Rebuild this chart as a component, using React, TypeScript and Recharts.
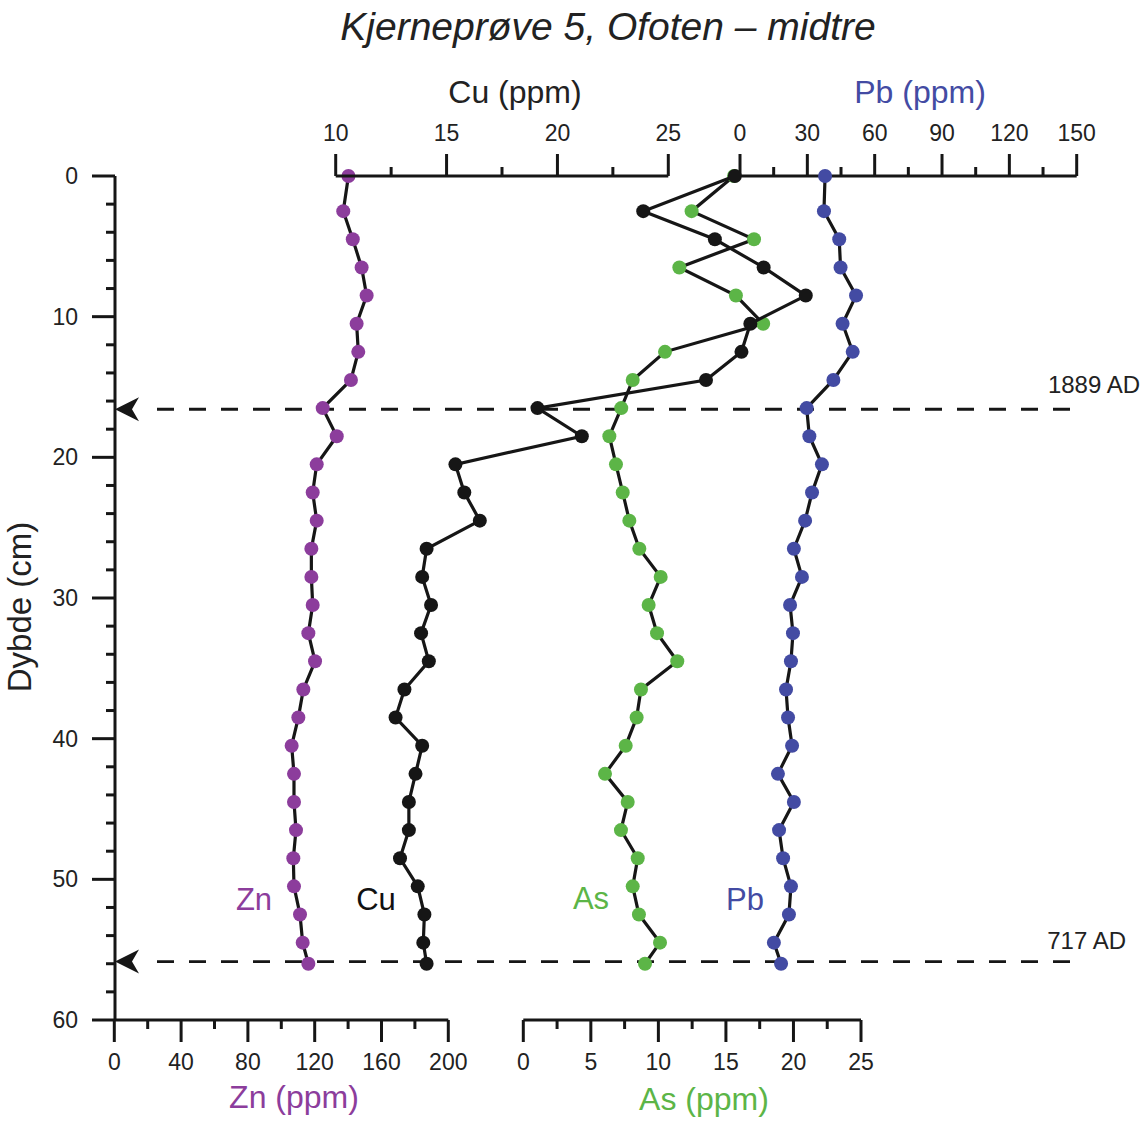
import { LineChart, Line, XAxis, YAxis, ReferenceLine } from 'recharts'

// depth of each sample (cm)
const depth = [0, 2.5, 4.5, 6.5, 8.5, 10.5, 12.5, 14.5, 16.5, 18.5, 20.5, 22.5, 24.5, 26.5, 28.5, 30.5, 32.5, 34.5, 36.5, 38.5, 40.5, 42.5, 44.5, 46.5, 48.5, 50.5, 52.5, 54.5, 56]

// concentrations (ppm)
const zn = [140.2, 137.1, 142.8, 148.1, 151.1, 145.1, 146.1, 141.7, 124.8, 133.2, 121.2, 118.8, 121.2, 118, 118, 118.8, 116.2, 120.2, 113.2, 110.2, 106.2, 107.6, 107.6, 108.8, 107.2, 107.6, 111.2, 112.8, 116.2]
const cu = [28.0, 23.87, 27.1, 29.3, 31.2, 28.7, 28.3, 26.7, 19.1, 21.1, 15.4, 15.8, 16.5, 14.1, 13.9, 14.3, 13.85, 14.2, 13.1, 12.7, 13.9, 13.6, 13.3, 13.3, 12.9, 13.7, 14.0, 13.95, 14.1]
const asv = [15.6, 12.46, 17.08, 11.55, 15.74, 17.76, 10.49, 8.1, 7.25, 6.37, 6.86, 7.36, 7.85, 8.59, 10.17, 9.28, 9.9, 11.4, 8.71, 8.39, 7.58, 6.05, 7.73, 7.23, 8.47, 8.1, 8.56, 10.12, 9.01]
const pb = [37.9, 37.4, 44.2, 44.8, 51.7, 45.7, 50.2, 41.6, 29.7, 30.9, 36.5, 32.1, 29, 24, 27.6, 22.3, 23.6, 22.7, 20.5, 21.4, 23.2, 16.9, 24, 17.4, 19.2, 22.7, 21.8, 15.1, 18.3]

// ticks
const depthTicks = [0, 2, 4, 6, 8, 10, 12, 14, 16, 18, 20, 22, 24, 26, 28, 30, 32, 34, 36, 38, 40, 42, 44, 46, 48, 50, 52, 54, 56, 58, 60]
const depthMajors = [0, 10, 20, 30, 40, 50, 60]
const znTicks = [0, 20, 40, 60, 80, 100, 120, 140, 160, 180, 200]
const znMajors = [0, 40, 80, 120, 160, 200]
const asTicks = [0, 2.5, 5, 7.5, 10, 12.5, 15, 17.5, 20, 22.5, 25]
const asMajors = [0, 5, 10, 15, 20, 25]
const cuTicks = [10, 12.5, 15, 17.5, 20, 22.5, 25]
const cuMajors = [10, 15, 20, 25]
const pbTicks = [0, 15, 30, 45, 60, 75, 90, 105, 120, 135, 150]
const pbMajors = [0, 30, 60, 90, 120, 150]

// dated horizons
const dated = [
  { depth: 16.58, label: '1889 AD' },
  { depth: 55.85, label: '717 AD' },
]

const W = 1148
const H = 1124
const PLOT_TOP = 176
const PLOT_BOTTOM = 1020
const AXIS_H = 40
const FONT = '"Liberation Sans", Arial, Helvetica, sans-serif'
const INK = '#161616'
const ZN = '#8c3d9c'
const AS = '#5cb547'
const PB = '#434ba3'

const rows = (vals: number[]) => depth.map((d, i) => ({ depth: d, v: vals[i] }))

function XTick({ x, y, payload, majors, dir }: any) {
  const major = majors.includes(payload.value)
  return (
    <g>
      <line x1={x} x2={x} y1={y} y2={y + dir * (major ? 22 : 9)} stroke={INK} strokeWidth={3} />
      {major && (
        <text x={x} y={dir > 0 ? y + 50 : y - 35} textAnchor="middle" fontSize={23} fill="#222" fontFamily={FONT}>
          {payload.value}
        </text>
      )}
    </g>
  )
}

function DepthTick({ x, y, payload }: any) {
  const major = depthMajors.includes(payload.value)
  return (
    <g>
      <line x1={x} x2={x - (major ? 23 : 9)} y1={y} y2={y} stroke={INK} strokeWidth={3} />
      {major && (
        <text x={x - 37} y={y} dy={8} textAnchor="end" fontSize={23} fill="#222" fontFamily={FONT}>
          {payload.value}
        </text>
      )}
    </g>
  )
}

function DatedLine(p: any) {
  return (
    <g>
      <path d={`M${p.x1},${p.y1} L${p.x1 + 24},${p.y1 - 12} L${p.x1 + 17},${p.y1} L${p.x1 + 24},${p.y1 + 12} Z`} fill={INK} />
      <line x1={p.x1 + 42} y1={p.y1} x2={p.x2} y2={p.y2} stroke={INK} strokeWidth={2.8} strokeDasharray="17 15" />
    </g>
  )
}

interface ProfileProps {
  values: number[]
  color: string
  left: number
  right: number
  top: boolean
  domain: [number, number]
  ticks: number[]
  majors: number[]
  axisEnd?: number
}

function Profile({ values, color, left, right, top, domain, ticks, majors, axisEnd }: ProfileProps) {
  return (
    <div style={{ position: 'absolute', left: 0, top: 0 }}>
      <LineChart
        width={W}
        height={H}
        data={rows(values)}
        layout="vertical"
        margin={{
          top: top ? PLOT_TOP - AXIS_H : PLOT_TOP,
          bottom: top ? H - PLOT_BOTTOM : H - PLOT_BOTTOM - AXIS_H,
          left,
          right: W - right,
        }}
      >
        <XAxis
          type="number"
          orientation={top ? 'top' : 'bottom'}
          domain={domain}
          ticks={ticks}
          interval={0}
          height={AXIS_H}
          tickSize={0}
          tickMargin={0}
          tickLine={false}
          axisLine={axisEnd === undefined ? { stroke: INK, strokeWidth: 3 } : false}
          tick={(props: any) => <XTick {...props} majors={majors} dir={top ? -1 : 1} />}
        />
        <YAxis type="number" dataKey="depth" domain={[0, 60]} hide />
        {axisEnd !== undefined && (
          <ReferenceLine
            segment={[{ x: domain[0], y: 0 }, { x: axisEnd, y: 0 }]}
            stroke={INK}
            strokeWidth={3}
          />
        )}
        <Line
          type="linear"
          dataKey="v"
          stroke={INK}
          strokeWidth={3.2}
          dot={{ r: 7, fill: color, stroke: 'none' }}
          activeDot={false}
          isAnimationActive={false}
        />
      </LineChart>
    </div>
  )
}

function Frame() {
  return (
    <div style={{ position: 'absolute', left: 0, top: 0 }}>
      <LineChart
        width={W}
        height={H}
        data={rows(zn)}
        layout="vertical"
        margin={{ top: PLOT_TOP, bottom: H - PLOT_BOTTOM, left: 115 - 60, right: W - 1072 }}
      >
        <XAxis type="number" domain={[0, 1]} allowDataOverflow hide />
        <YAxis
          type="number"
          dataKey="depth"
          domain={[0, 60]}
          ticks={depthTicks}
          interval={0}
          width={60}
          tickSize={0}
          tickMargin={0}
          tickLine={false}
          axisLine={{ stroke: INK, strokeWidth: 3 }}
          tick={<DepthTick />}
        />
        {dated.map((d) => (
          <ReferenceLine key={d.label} y={d.depth} shape={DatedLine} />
        ))}
      </LineChart>
    </div>
  )
}

// Cu plot area is widened so that samples above 25 ppm stay on the same scale
const CU_LEFT = 335.7
const CU_25 = 668.3
const CU_MAX = 32
const CU_RIGHT = CU_LEFT + ((CU_MAX - 10) / 15) * (CU_25 - CU_LEFT)

export default function App() {
  const t = { fontFamily: FONT }
  return (
    <div style={{ position: 'relative', width: W, height: H, background: '#fff' }}>
      <style>{'body{margin:0}'}</style>
      <Frame />
      <Profile values={zn} color={ZN} left={114.3} right={448.3} top={false} domain={[0, 200]} ticks={znTicks} majors={znMajors} />
      <Profile values={asv} color={AS} left={523.3} right={861} top={false} domain={[0, 25]} ticks={asTicks} majors={asMajors} />
      <Profile values={cu} color={INK} left={CU_LEFT} right={CU_RIGHT} top domain={[10, CU_MAX]} ticks={cuTicks} majors={cuMajors} axisEnd={25} />
      <Profile values={pb} color={PB} left={740} right={1076.7} top domain={[0, 150]} ticks={pbTicks} majors={pbMajors} />
      <svg width={W} height={H} style={{ position: 'absolute', left: 0, top: 0, pointerEvents: 'none' }}>
        <text x={608} y={40} textAnchor="middle" fontSize={39} fontStyle="italic" fill="#222" style={t}>
          Kjerneprøve 5, Ofoten – midtre
        </text>
        <text x={515} y={103} textAnchor="middle" fontSize={32} fill="#222" style={t}>Cu (ppm)</text>
        <text x={920} y={103} textAnchor="middle" fontSize={32} fill={PB} style={t}>Pb (ppm)</text>
        <text x={294} y={1108} textAnchor="middle" fontSize={32} fill={ZN} style={t}>Zn (ppm)</text>
        <text x={704} y={1110} textAnchor="middle" fontSize={32} fill={AS} style={t}>As (ppm)</text>
        <text x={31} y={607} textAnchor="middle" fontSize={33} fill="#222" transform="rotate(-90 31 607)" style={t}>
          Dybde (cm)
        </text>
        <text x={254} y={910} textAnchor="middle" fontSize={31} fill={ZN} style={t}>Zn</text>
        <text x={376} y={910} textAnchor="middle" fontSize={31} fill="#111" style={t}>Cu</text>
        <text x={591} y={909} textAnchor="middle" fontSize={31} fill={AS} style={t}>As</text>
        <text x={745} y={910} textAnchor="middle" fontSize={31} fill={PB} style={t}>Pb</text>
        <text x={1140} y={393} textAnchor="end" fontSize={24} fill="#222" style={t}>{dated[0].label}</text>
        <text x={1126} y={949} textAnchor="end" fontSize={24} fill="#222" style={t}>{dated[1].label}</text>
      </svg>
    </div>
  )
}
